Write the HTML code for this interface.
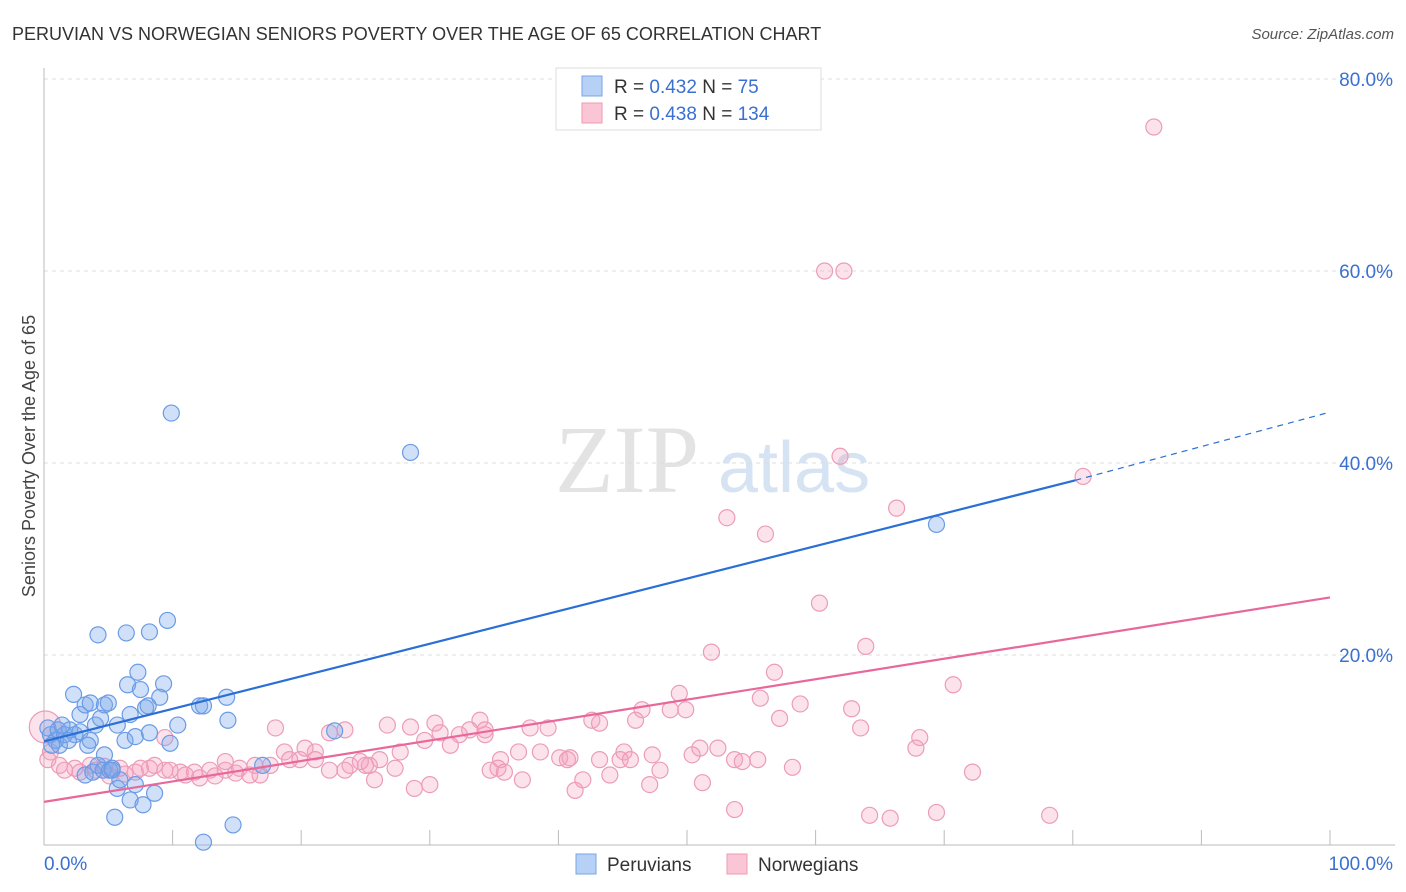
<!DOCTYPE html>
<html><head><meta charset="utf-8">
<style>
body{margin:0;background:#fff;font-family:"Liberation Sans",sans-serif;}
#wrap{position:relative;width:1406px;height:892px;overflow:hidden;}
</style></head>
<body><div id="wrap">
<svg id="chart" width="1406" height="892" xmlns="http://www.w3.org/2000/svg">
<text x="12" y="40" font-size="18" fill="#333">PERUVIAN VS NORWEGIAN SENIORS POVERTY OVER THE AGE OF 65 CORRELATION CHART</text>
<text x="1394" y="39" font-size="15" fill="#555" font-style="italic" text-anchor="end">Source: ZipAtlas.com</text>
<text x="35" y="456" font-size="18" fill="#444" text-anchor="middle" transform="rotate(-90 35 456)">Seniors Poverty Over the Age of 65</text>
<text x="555" y="492" font-size="96" fill="#e3e3e3" font-family="Liberation Serif">ZIP</text>
<text x="718" y="492" font-size="72" fill="#d5e3f3">atlas</text>
<g id="grid"></g><g id="axes"></g><g id="pts"></g><g id="lines"></g>
<g>
<rect x="556" y="68" width="265" height="62" fill="#fff" stroke="#ddd"/>
<rect x="582" y="76" width="20" height="20" fill="#b7d0f5" stroke="#7aa6e8"/>
<rect x="582" y="103" width="20" height="20" fill="#fac6d6" stroke="#ee9ab6"/>
<text x="614" y="93" font-size="19" fill="#333">R = <tspan fill="#3a70d0">0.432</tspan>   N =  <tspan fill="#3a70d0">  75</tspan></text>
<text x="614" y="120" font-size="19" fill="#333">R = <tspan fill="#3a70d0">0.438</tspan>   N = <tspan fill="#3a70d0">134</tspan></text>
</g>
<g>
<rect x="576" y="854" width="20" height="20" fill="#b7d0f5" stroke="#7aa6e8"/>
<text x="607" y="871" font-size="19" fill="#333">Peruvians</text>
<rect x="727" y="854" width="20" height="20" fill="#fac6d6" stroke="#ee9ab6"/>
<text x="758" y="871" font-size="19" fill="#333">Norwegians</text>
</g>
</svg></div>
<script>
const xTicks=[0,10,20,30,40,50,60,70,80,90,100];
const yTicks=[20,40,60,80];
const peruvians=[[0.5,11.7],[0.9,11.1],[1.2,10.6],[0.3,12.4],[0.6,10.6],[1.1,12.2],[1.6,11.7],[2.0,12.2],[2.4,11.7],[2.8,12.0],[1.4,12.7],[1.9,11.1],[2.3,15.9],[2.8,13.8],[3.2,14.8],[3.6,15.0],[4.0,12.7],[4.4,13.4],[4.7,14.8],[5.0,15.0],[3.6,11.1],[3.2,7.5],[3.8,7.8],[4.2,8.5],[4.6,8.0],[5.1,8.0],[4.7,9.6],[5.3,8.2],[4.2,22.1],[6.4,22.3],[8.2,22.4],[9.6,23.6],[7.3,18.2],[6.5,16.9],[7.5,16.4],[9.3,17.0],[9.0,15.6],[7.9,14.5],[8.1,14.7],[6.7,13.8],[5.7,12.7],[6.3,11.1],[7.1,11.5],[8.2,11.9],[9.8,10.8],[10.4,12.7],[12.1,14.7],[12.4,14.7],[14.2,15.6],[14.3,13.2],[9.9,45.2],[28.5,41.1],[69.4,33.6],[22.6,12.1],[17.0,8.5],[5.7,6.1],[6.7,4.9],[7.7,4.4],[8.6,5.6],[5.5,3.1],[12.4,0.5],[14.7,2.3],[7.1,6.5],[5.9,7.0],[5.3,8.0],[3.4,10.6]];
const norwegians=[[86.3,75.0],[60.7,60.0],[62.2,60.0],[61.9,40.7],[80.8,38.6],[66.3,35.3],[53.1,34.3],[56.1,32.6],[60.3,25.4],[63.9,20.9],[51.9,20.3],[70.7,16.9],[56.8,18.2],[49.4,16.0],[55.7,15.5],[58.8,14.9],[62.8,14.4],[57.2,13.4],[63.5,12.4],[48.7,14.3],[49.9,14.3],[46.5,14.3],[46.0,13.2],[42.6,13.2],[43.2,12.9],[39.2,12.4],[37.8,12.4],[33.9,13.2],[30.4,12.9],[28.5,12.5],[26.7,12.7],[23.4,12.2],[18.0,12.4],[9.4,11.4],[68.1,11.4],[67.8,10.3],[52.4,10.3],[51.0,10.3],[50.4,9.6],[47.3,9.6],[45.1,9.9],[43.2,9.1],[40.9,9.3],[38.6,9.9],[36.9,9.9],[35.5,9.1],[34.3,11.7],[32.3,11.7],[31.6,10.6],[29.6,11.1],[27.7,9.9],[26.1,9.1],[22.2,11.9],[21.1,9.9],[19.9,9.1],[18.7,9.9],[17.6,8.5],[16.4,8.5],[15.2,8.2],[14.1,8.0],[12.9,8.0],[11.7,7.8],[10.6,7.8],[9.4,8.0],[8.2,8.2],[7.1,7.8],[5.9,8.2],[4.7,8.4],[3.6,8.5],[2.4,8.2],[1.2,8.5],[0.5,9.9],[0.1,12.5],[0.3,9.1],[16.0,7.5],[14.9,7.7],[13.3,7.4],[12.1,7.2],[11.0,7.5],[9.8,8.0],[8.6,8.5],[7.5,8.2],[6.3,7.6],[5.1,7.4],[4.0,8.0],[2.8,7.8],[1.6,8.0],[21.1,9.1],[22.2,8.0],[23.8,8.5],[25.0,8.5],[25.3,8.5],[27.3,8.2],[30.0,6.5],[28.8,6.1],[25.7,7.0],[34.7,8.0],[35.3,8.2],[37.2,7.0],[41.3,5.9],[41.9,7.0],[44.0,7.5],[44.8,9.1],[45.6,9.1],[47.1,6.5],[47.9,8.0],[51.2,6.7],[53.7,3.9],[58.2,8.3],[64.2,3.3],[65.8,3.0],[69.4,3.6],[78.2,3.3],[72.2,7.8],[55.5,9.1],[53.7,9.1],[54.3,8.9],[40.1,9.3],[40.7,9.1],[35.8,7.8],[33.1,12.2],[34.3,12.2],[30.8,11.9],[23.4,8.0],[24.6,8.9],[20.3,10.3],[19.1,9.1],[16.8,7.5],[14.1,8.9]];
const peruTrend=[11.0,38.2,45.3]; // at x=0, 80.2, 100
const norTrend=[4.7,26.0]; // at x=0,100
const X=v=>44+v*12.86, Y=v=>847-v*9.6;
const NS="http://www.w3.org/2000/svg";
function mk(tag,attrs,parent){const e=document.createElementNS(NS,tag);for(const k in attrs)e.setAttribute(k,attrs[k]);document.getElementById(parent).appendChild(e);return e;}
yTicks.forEach(t=>{
 const l=mk('line',{x1:44,x2:1395,y1:Y(t),y2:Y(t),stroke:'#ddd','stroke-dasharray':'4,4'},'grid');
 
 
 const tx=mk('text',{x:1393,y:Y(t)+7,'font-size':19,fill:'#3a70d0','text-anchor':'end'},'grid');
 tx.textContent=t.toFixed(1)+'%';
 
 
});
const ax=mk('line',{x1:44,x2:44,y1:68,y2:845,stroke:'#bbb'},'axes');


const bx=mk('line',{x1:44,x2:1395,y1:845,y2:845,stroke:'#bbb'},'axes');


xTicks.forEach(t=>{
 const l=mk('line',{x1:X(t),x2:X(t),y1:830,y2:845,stroke:'#bbb'},'axes');
 
 
});
[[0,'0.0%','start'],[100,'100.0%','end']].forEach(([v,s,a])=>{
 const tx=mk('text',{x:v===0?44:1393,y:870,'font-size':19,fill:'#3a70d0','text-anchor':a},'axes');
 tx.textContent=s;
 
 
});
norwegians.forEach((d,i)=>{
 const c=mk('circle',{cx:X(d[0]),cy:Y(d[1]),r:(d[0]<0.2?16:8),fill:'rgba(245,160,190,0.3)',stroke:'#ec9cb8','stroke-width':1.2},'pts');
 
 
});
peruvians.forEach((d,i)=>{
 const c=mk('circle',{cx:X(d[0]),cy:Y(d[1]),r:8,fill:'rgba(120,165,235,0.35)',stroke:'#6a9be5','stroke-width':1.2},'pts');
 
 
});
let l1=mk('line',{x1:X(0),y1:Y(peruTrend[0]),x2:X(80.2),y2:Y(peruTrend[1]),stroke:'#2a6fd6','stroke-width':2.2},'lines');


let l2=mk('line',{x1:X(80.2),y1:Y(peruTrend[1]),x2:X(100),y2:Y(peruTrend[2]),stroke:'#2a6fd6','stroke-width':1.2,'stroke-dasharray':'6,5'},'lines');


let l3=mk('line',{x1:X(0),y1:Y(norTrend[0]),x2:X(100),y2:Y(norTrend[1]),stroke:'#e8689a','stroke-width':2.2},'lines');


</script>
</body></html>
